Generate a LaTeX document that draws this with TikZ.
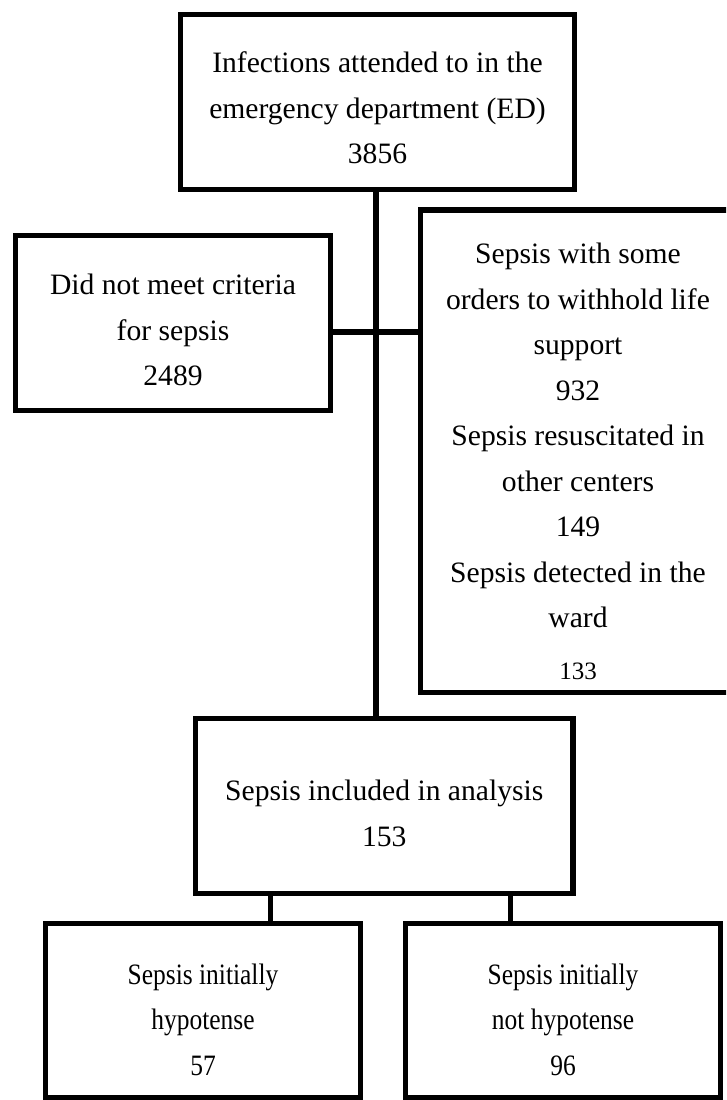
\documentclass[tikz,border=0pt]{standalone}
\usepackage{fontspec}
\setmainfont{Liberation Serif}
\usepackage{graphicx}
\newcommand\narrowtxt[1]{\scalebox{0.86}[1]{#1}}
\begin{document}
\begin{tikzpicture}[x=1pt,y=-1pt,
  box/.style={draw, line width=5.5pt, inner sep=0pt},
  txt/.style={align=center, inner sep=0pt, font=\fontsize{29.6}{45.5}\selectfont},
  link/.style={line width=5.5pt}]
\clip (0,0) rectangle (726,1100);
\fill[white] (0,0) rectangle (726,1100);
% boxes
\node[box, minimum width=394pt, minimum height=175pt] (top) at (377.5,102) {};
\node[box, minimum width=315pt, minimum height=175pt] (excl) at (173,323) {};
\node[box, minimum width=315.5pt, minimum height=482.5pt] (other) at (578,451.25) {};
\node[box, minimum width=377.5pt, minimum height=175pt] (incl) at (384.25,806) {};
\node[box, minimum width=315pt, minimum height=174.5pt] (hypo) at (203,1010.75) {};
\node[box, minimum width=315pt, minimum height=174.5pt] (nohypo) at (563,1010.75) {};
% texts
\node[txt, yshift=-6pt] (topT) at (top.center)
  {Infections attended to in the\\ emergency department (ED)\\ 3856};
\node[txt, yshift=-7pt] (exclT) at (excl.center)
  {Did not meet criteria\\ for sepsis\\ 2489};
\node[txt, yshift=-10pt] (otherT) at (other.center)
  {Sepsis with some\\ orders to withhold life\\ support\\ 932\\ Sepsis resuscitated in\\ other centers\\ 149\\ Sepsis detected in the\\ ward\\[6pt] {\fontsize{25}{45.5}\selectfont 133}};
\node[txt, yshift=-7.5pt] (inclT) at (incl.center)
  {Sepsis included in analysis\\ 153};
\node[txt, yshift=-9pt] (hypoT) at (hypo.center)
  {\narrowtxt{Sepsis initially}\\ \narrowtxt{hypotense}\\ \narrowtxt{57}};
\node[txt, yshift=-9pt] (nohypoT) at (nohypo.center)
  {\narrowtxt{Sepsis initially}\\ \narrowtxt{not hypotense}\\ \narrowtxt{96}};
% connectors
\coordinate (t1) at (376,189.5);
\draw[link, line width=6pt] (top.south -| t1) -- (incl.north -| t1);
\coordinate (h1) at (0,332);
\draw[link] (excl.east |- h1) -- (other.west |- h1);
\coordinate (b1) at (270.5,0);
\coordinate (b2) at (510.5,0);
\draw[link, line width=5pt] (incl.south -| b1) -- (hypo.north -| b1);
\draw[link, line width=5pt] (incl.south -| b2) -- (nohypo.north -| b2);
\end{tikzpicture}
\end{document}
